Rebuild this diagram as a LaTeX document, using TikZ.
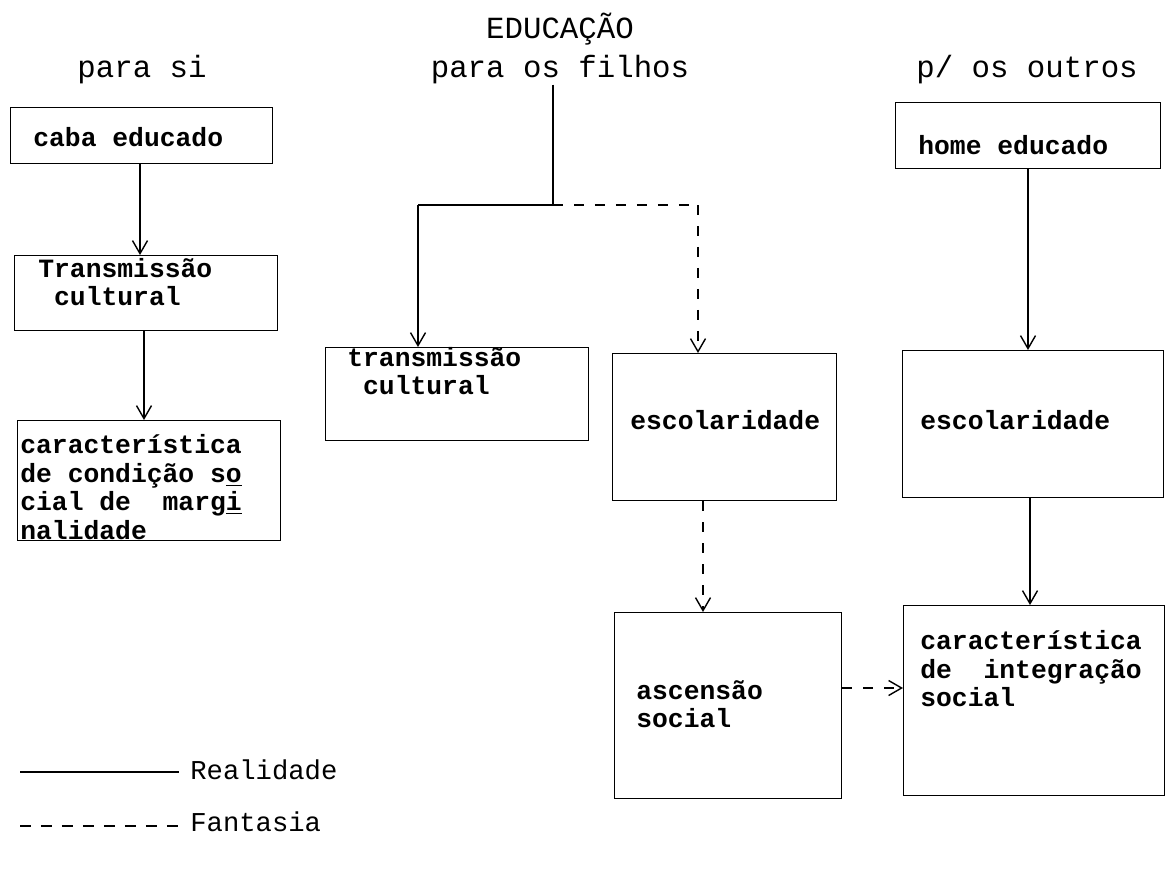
\documentclass[tikz,border=0pt]{standalone}
\usepackage{fontspec}
\newfontfamily\tw{Liberation Mono}
\usetikzlibrary{arrows.meta}
\begin{document}
\begin{tikzpicture}[x=0.02cm,y=-0.02cm,
  box/.style={draw, line width=0.8pt, inner sep=0pt, anchor=north west},
  head/.style={font=\tw\fontsize{17.5}{20}\selectfont, inner sep=0pt},
  btext/.style={font=\tw\bfseries\fontsize{15}{16.2}\selectfont, inner sep=0pt, anchor=west, align=left},
  leg/.style={font=\tw\fontsize{15.5}{18}\selectfont, inner sep=0pt, anchor=west},
  real/.style={line width=0.8pt},
  fant/.style={line width=0.8pt, dash pattern=on 0.2cm off 0.22cm},
  tip/.style={-{Straight Barb[length=0.26cm,width=0.3cm,line width=0.8pt]}}
]
\useasboundingbox (0,0) rectangle (1166,876);
\fill[white] (0,0) rectangle (1166,876);

% headings
\node[head] (edu) at (560,29) {EDUCAÇÃO};
\node[head] (si) at (142,70) {para si};
\node[head] (filhos) at (560,70) {para os filhos};
\node[head] (outros) at (1027,70) {p/ os outros};

% left column
\node[box, minimum width=262*0.02cm, minimum height=56*0.02cm] (caba) at (10,107) {};
\node[btext] (cabat) at (33,137) {caba educado};
\node[box, minimum width=263*0.02cm, minimum height=75*0.02cm] (trans1) at (14,255) {};
\node[btext] (trans1t) at (38,282) {Transmissão\\\ cultural};
\node[box, minimum width=263*0.02cm, minimum height=120*0.02cm] (marg) at (17,420) {};
\node[btext] (margt) at (20,487) {característica\\de condição s\underline{o}\\cial de\ \ marg\underline{i}\\nalidade};

% middle column
\coordinate (j) at (553,205);
\coordinate (jl) at (418,205);
\coordinate (jr) at (698,205);
\node[box, minimum width=263*0.02cm, minimum height=93*0.02cm] (trans2) at (325,347) {};
\node[btext] (trans2t) at (347,371) {transmissão\\\ cultural};
\node[box, minimum width=224*0.02cm, minimum height=147*0.02cm] (esc1) at (612,353) {};
\node[btext] (esc1t) at (630,420) {escolaridade};
\node[box, minimum width=227*0.02cm, minimum height=186*0.02cm] (asc) at (614,612) {};
\node[btext] (asct) at (636,704) {ascensão\\social};

% right column
\node[box, minimum width=265*0.02cm, minimum height=66*0.02cm] (home) at (895,102) {};
\node[btext] (homet) at (918,145) {home educado};
\node[box, minimum width=261*0.02cm, minimum height=147*0.02cm] (esc2) at (902,350) {};
\node[btext] (esc2t) at (920,420) {escolaridade};
\node[box, minimum width=261*0.02cm, minimum height=190*0.02cm] (integ) at (903,605) {};
\node[btext] (integt) at (920,669) {característica\\de\ \ integração\\social};

% connectors
\draw[real, tip] (caba.south -| 140,0) -- (trans1.north -| 140,0);
\draw[real, tip] (trans1.south -| 144,0) -- (marg.north -| 144,0);
\draw[real] (filhos.south -| j) -- (j) -- (jl);
\draw[real, tip] (jl) -- (trans2.north -| jl);
\draw[fant] (j) -- (jr);
\draw[fant, tip] (jr) -- (esc1.north -| jr);
\draw[fant, tip] (esc1.south -| 703,0) -- (asc.north -| 703,0);
\draw[fant, tip] (asc.east |- 0,688) -- (integ.west |- 0,688);
\draw[real, tip] (home.south -| 1028,0) -- (esc2.north -| 1028,0);
\draw[real, tip] (esc2.south -| 1030,0) -- (integ.north -| 1030,0);

% legend
\node[leg] (realt) at (190,770) {Realidade};
\node[leg] (fantt) at (190,822) {Fantasia};
\coordinate (l1) at (20,772);
\coordinate (l2) at (20,826);
\draw[real] (l1) -- ([xshift=-6pt]realt.west |- l1);
\draw[line width=0.8pt, dash pattern=on 0.22cm off 0.2cm] (l2) -- ([xshift=-4pt]fantt.west |- l2);
\end{tikzpicture}
\end{document}
